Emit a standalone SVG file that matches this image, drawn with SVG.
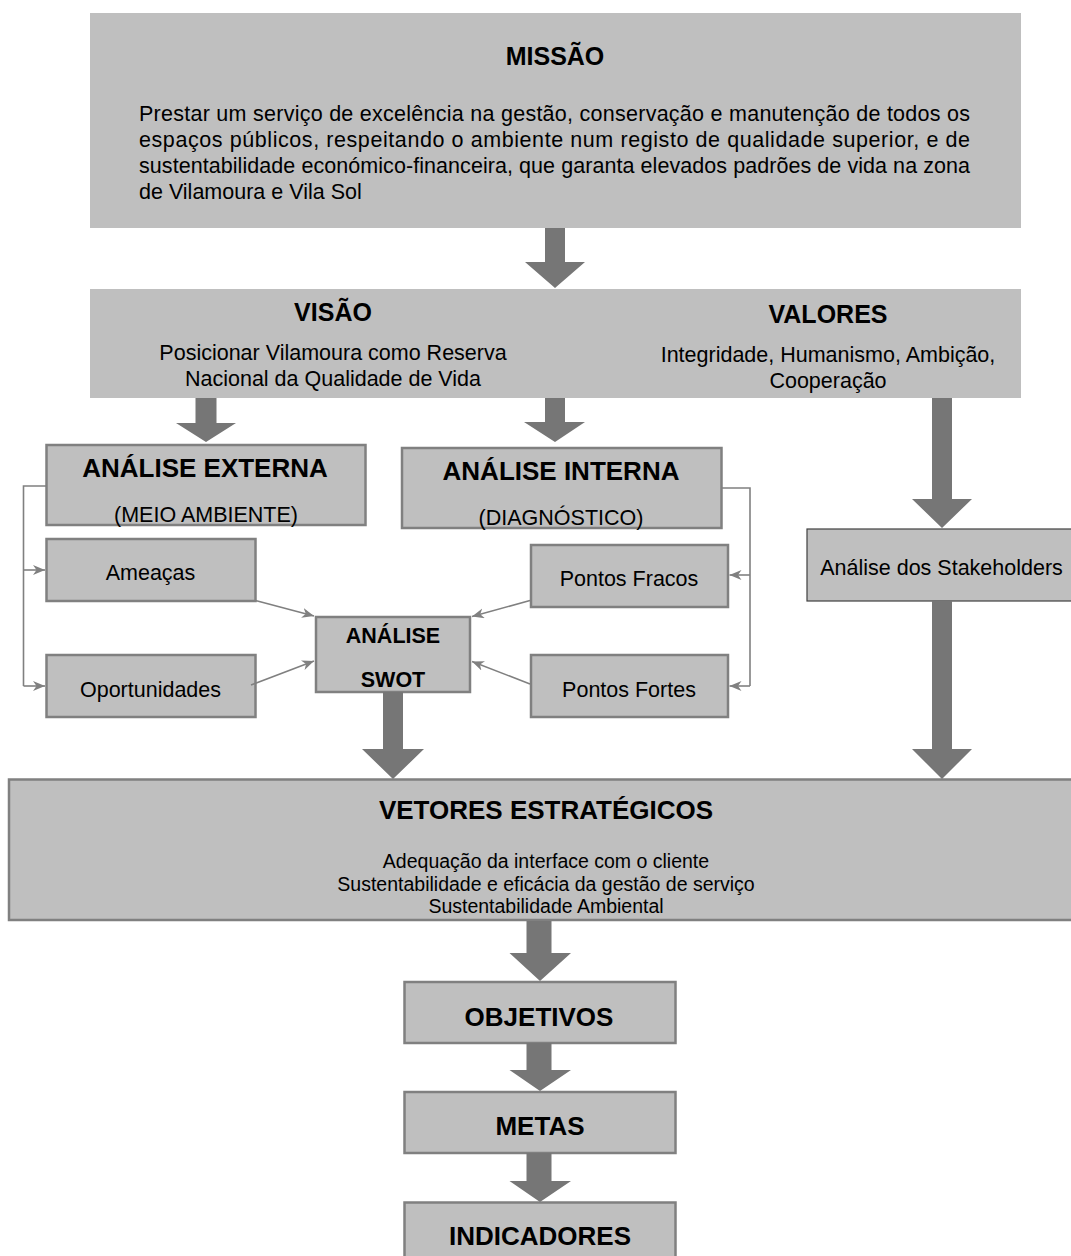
<svg xmlns="http://www.w3.org/2000/svg" width="1071" height="1256" viewBox="0 0 1071 1256">
<style>
text{font-family:"Liberation Sans",Arial,sans-serif;fill:#000;}
.t{font-size:25px;font-weight:bold;text-anchor:middle;}
.t26{font-size:26px;font-weight:bold;text-anchor:middle;}
.b{font-size:21.5px;text-anchor:middle;}
.bv{font-size:19.5px;text-anchor:middle;}
.bl{font-size:21.5px;}
.bb{font-size:21.5px;font-weight:bold;text-anchor:middle;}
.plain{fill:#bfbfbf;}
.box{fill:#bfbfbf;stroke:#808080;stroke-width:2.5;}
.dark{fill:#bfbfbf;stroke:#404040;stroke-width:1.2;}
.big{fill:#767676;}
.thin{fill:none;stroke:#808080;stroke-width:1.6;}
</style>
<defs>
<marker id="ah" markerUnits="userSpaceOnUse" markerWidth="13" markerHeight="11" refX="12" refY="5" orient="auto">
<path d="M0,0 L12,5 L0,10 L3.5,5 z" fill="#808080"/>
</marker>
</defs>

<g id="missao">
<rect class="plain" x="90" y="13" width="931" height="215"/>
<text class="t" x="555" y="65">MISSÃO</text>
<text class="bl" x="139" y="121" textLength="831" lengthAdjust="spacing">Prestar um serviço de excelência na gestão, conservação e manutenção de todos os</text>
<text class="bl" x="139" y="147" textLength="831" lengthAdjust="spacing">espaços públicos, respeitando o ambiente num registo de qualidade superior, e de</text>
<text class="bl" x="139" y="173" textLength="831" lengthAdjust="spacing">sustentabilidade económico-financeira, que garanta elevados padrões de vida na zona</text>
<text class="bl" x="139" y="199">de Vilamoura e Vila Sol</text>
</g>

<g id="visao-valores">
<rect class="plain" x="90" y="289" width="931" height="109"/>
<text class="t" x="333" y="321">VISÃO</text>
<text class="b" x="333" y="360">Posicionar Vilamoura como Reserva</text>
<text class="b" x="333" y="386">Nacional da Qualidade de Vida</text>
<text class="t" x="828" y="323">VALORES</text>
<text class="b" x="828" y="362">Integridade, Humanismo, Ambição,</text>
<text class="b" x="828" y="388">Cooperação</text>
</g>

<g id="analise-externa">
<rect class="box" x="46.5" y="445" width="319" height="80"/>
<text class="t26" x="205" y="477">ANÁLISE EXTERNA</text>
<text class="b" x="206" y="522">(MEIO AMBIENTE)</text>
</g>

<g id="analise-interna">
<rect class="box" x="402" y="448" width="319.5" height="80"/>
<text class="t26" x="561" y="480">ANÁLISE INTERNA</text>
<text class="b" x="561" y="525">(DIAGNÓSTICO)</text>
</g>

<g id="ameacas">
<rect class="box" x="46.5" y="539" width="209" height="62"/>
<text class="b" x="150.5" y="580">Ameaças</text>
</g>

<g id="oportunidades">
<rect class="box" x="46.5" y="655" width="209" height="62"/>
<text class="b" x="150.5" y="697">Oportunidades</text>
</g>

<g id="swot">
<rect class="box" x="316" y="617" width="154" height="75"/>
<text class="bb" x="393" y="643">ANÁLISE</text>
<text class="bb" x="393" y="687">SWOT</text>
</g>

<g id="pontos-fracos">
<rect class="box" x="531" y="545" width="197" height="62"/>
<text class="b" x="629" y="586">Pontos Fracos</text>
</g>

<g id="pontos-fortes">
<rect class="box" x="531" y="655" width="197" height="62"/>
<text class="b" x="629" y="697">Pontos Fortes</text>
</g>

<g id="stakeholders">
<rect class="dark" x="807" y="529" width="280" height="72"/>
<text class="b" x="941.5" y="575">Análise dos Stakeholders</text>
</g>

<g id="vetores">
<rect class="box" x="9" y="779.5" width="1080" height="140.5"/>
<text class="t26" x="546" y="819">VETORES ESTRATÉGICOS</text>
<text class="bv" x="546" y="868">Adequação da interface com o cliente</text>
<text class="bv" x="546" y="890.5">Sustentabilidade e eficácia da gestão de serviço</text>
<text class="bv" x="546" y="913">Sustentabilidade Ambiental</text>
</g>

<g id="objetivos">
<rect class="box" x="404.5" y="982" width="271" height="61"/>
<text class="t26" x="539" y="1026">OBJETIVOS</text>
</g>

<g id="metas">
<rect class="box" x="404.5" y="1092" width="271" height="61"/>
<text class="t26" x="540" y="1135">METAS</text>
</g>

<g id="indicadores">
<rect class="box" x="404.5" y="1202.5" width="271" height="70"/>
<text class="t26" x="540" y="1245">INDICADORES</text>
</g>

<g id="connectors">
<polygon class="big" points="545,228 565,228 565,262 585,262 555,288 525,262 545,262"/>
<polygon class="big" points="195.5,398 216.5,398 216.5,423 236,423 206,442 176,423 195.5,423"/>
<polygon class="big" points="545,398 565,398 565,422 585,422 555,442 524,422 545,422"/>
<polygon class="big" points="932,398 952,398 952,499 972,499 942,528 912,499 932,499"/>
<polygon class="big" points="383,692 403,692 403,749 424,749 393,779 362,749 383,749"/>
<polygon class="big" points="932,601 952,601 952,749 972,749 942,779 912,749 932,749"/>
<polygon class="big" points="526.5,921 551.5,921 551.5,953 571,953 540,981 509.5,953 526.5,953"/>
<polygon class="big" points="526.5,1043 551.5,1043 551.5,1070 571,1070 540,1091 509.5,1070 526.5,1070"/>
<polygon class="big" points="526.5,1153 551.5,1153 551.5,1181 571,1181 540,1202 509.5,1181 526.5,1181"/>

<polyline class="thin" points="46,486 23.5,486 23.5,686"/>
<line class="thin" x1="23.5" y1="570" x2="45" y2="570" marker-end="url(#ah)"/>
<line class="thin" x1="23.5" y1="686" x2="45" y2="686" marker-end="url(#ah)"/>
<polyline class="thin" points="722,488 750,488 750,686"/>
<line class="thin" x1="750" y1="575" x2="729.5" y2="575" marker-end="url(#ah)"/>
<line class="thin" x1="750" y1="686" x2="729.5" y2="686" marker-end="url(#ah)"/>

<line class="thin" x1="255.5" y1="600.5" x2="314" y2="616" marker-end="url(#ah)"/>
<line class="thin" x1="251" y1="685" x2="314" y2="661" marker-end="url(#ah)"/>
<line class="thin" x1="530" y1="600.5" x2="472" y2="616.5" marker-end="url(#ah)"/>
<line class="thin" x1="530" y1="684" x2="472" y2="661.5" marker-end="url(#ah)"/>
</g>
</svg>
